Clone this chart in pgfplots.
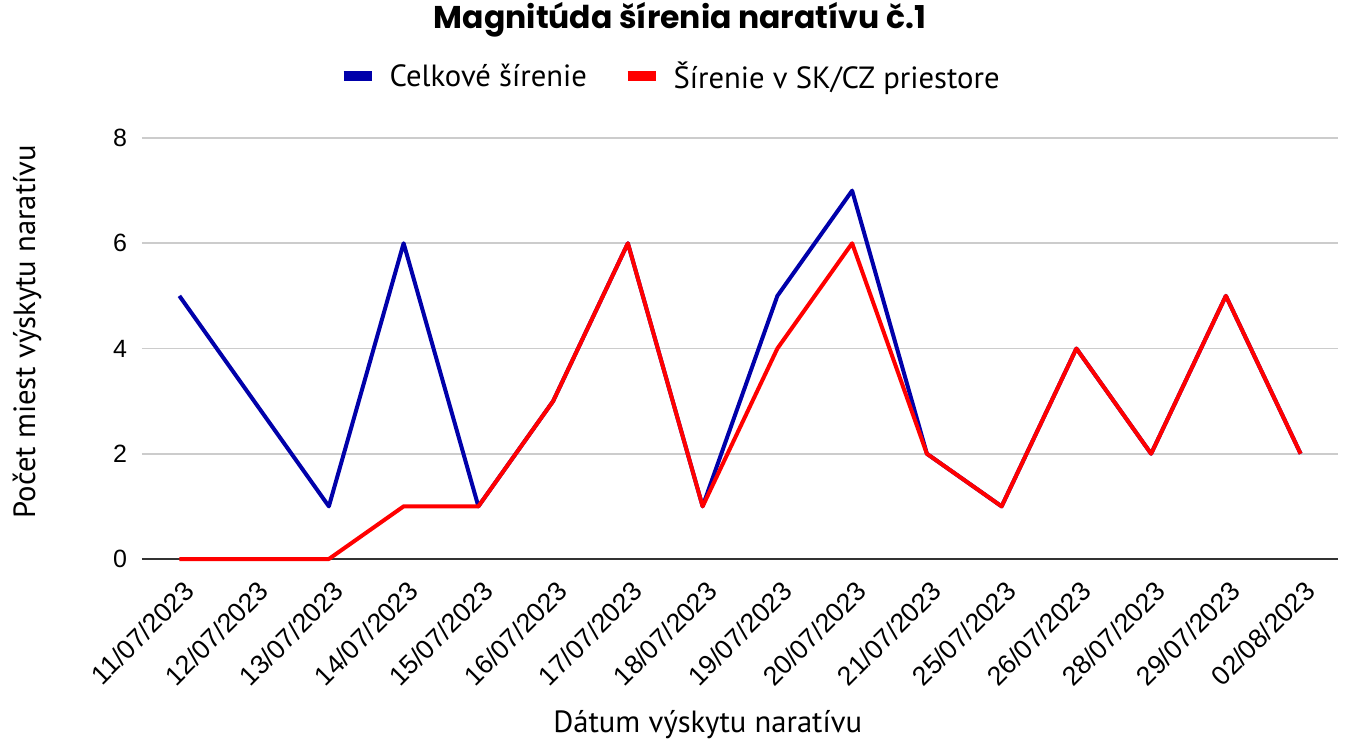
\documentclass[border=0pt]{standalone}
\usepackage{fontspec}
\setmainfont{Liberation Sans}
\newfontfamily\titlefont{Poppins}[BoldFont={* Bold}]
\newfontfamily\labelfont{PT Sans}
\usepackage{pgfplots}
\pgfplotsset{compat=1.18}
\definecolor{cblue}{HTML}{0000AA}
\definecolor{cred}{HTML}{FF0000}
\definecolor{cgrid}{HTML}{CCCCCC}
\definecolor{cbase}{HTML}{333333}

\pgfplotstableread{
x total sk
0 5 0
1 3 0
2 1 0
3 6 1
4 1 1
5 3 3
6 6 6
7 1 1
8 5 4
9 7 6
10 2 2
11 1 1
12 4 4
13 2 2
14 5 5
15 2 2
}\narativ

\begin{document}
\begin{tikzpicture}
\begin{axis}[
    scale only axis,
    width=897pt, height=315.75pt,
    xmin=-0.5, xmax=15.5,
    ymin=0, ymax=8,
    ytick={0,2,4,6,8},
    xtick={0,...,15},
    xticklabels={11/07/2023,12/07/2023,13/07/2023,14/07/2023,15/07/2023,16/07/2023,17/07/2023,18/07/2023,19/07/2023,20/07/2023,21/07/2023,25/07/2023,26/07/2023,28/07/2023,29/07/2023,02/08/2023},
    axis line style={draw=none},
    tick style={draw=none},
    ymajorgrids, grid style={cgrid, line width=1.2pt},
    /pgf/number format/assume math mode=true,
    yticklabel style={font=\fontsize{18.75}{20}\selectfont, anchor=east, inner sep=0pt, xshift=-11pt},
    xticklabel style={font=\fontsize{20}{22}\selectfont, xshift=2pt, yshift=-15pt, rotate=45, anchor=north east, inner sep=0pt},
    xlabel={Dátum výskytu naratívu},
    ylabel={Počet miest výskytu naratívu},
    label style={font=\labelfont\fontsize{23}{26}\selectfont},
    xlabel style={at={(axis description cs:0.473,-0.394)}, anchor=center},
    ylabel style={at={(axis description cs:-0.0962,0.54)}, anchor=center},
    title={\textbf{Magnitúda šírenia naratívu č.1}},
    title style={font=\titlefont\fontsize{23.6}{27}\selectfont, at={(axis description cs:0.4498,1.261)}, anchor=center},
    legend columns=2,
    legend style={at={(axis description cs:0.442,1.147)}, anchor=center, draw=none, fill=none,
        font=\labelfont\fontsize{23}{26}\selectfont,
        /tikz/every odd column/.append style={column sep=8pt},
        /tikz/every even column/.append style={column sep=25pt}},
    legend image code/.code={\draw[line width=7pt] (0pt,0pt) -- (21pt,0pt);},
    clip=false,
]
\draw[cbase, line width=1.3pt] (axis cs:-0.5,0) -- (axis cs:15.5,0);
\addplot[cblue, line width=3pt, line join=round] table[x=x, y=total] {\narativ};
\addlegendentry{Celkové šírenie}
\addplot[cred, line width=3pt, line join=round] table[x=x, y=sk] {\narativ};
\addlegendentry{Šírenie v SK/CZ priestore}
\end{axis}
\pgfresetboundingbox
\path ([xshift=-106.5pt, yshift=-137.25pt]current axis.south west)
  rectangle ([xshift=6pt, yshift=103.5pt]current axis.north east);
\end{tikzpicture}
\end{document}
